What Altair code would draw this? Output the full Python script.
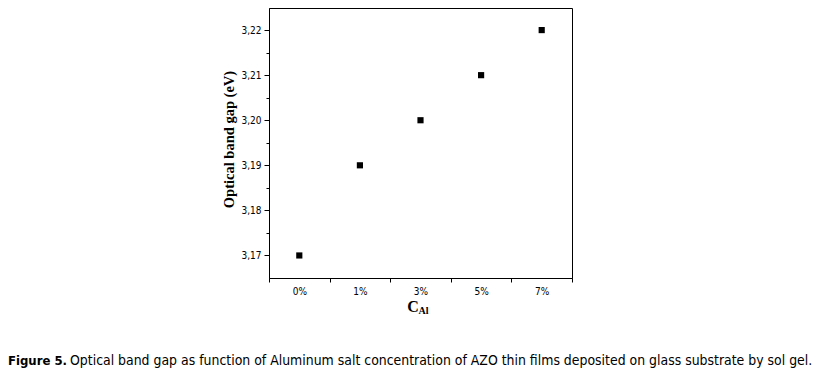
import altair as alt
import pandas as pd

categories = ["0%", "1%", "3%", "5%", "7%"]
band_gap = [3.17, 3.19, 3.20, 3.21, 3.22]
y_ticks = [3.17, 3.175, 3.18, 3.185, 3.19, 3.195, 3.20, 3.205, 3.21, 3.215, 3.22]
y_title = "Optical band gap (eV)"
x_title_main = "C"
x_title_sub = "Al"
caption_bold = "Figure 5."
caption_rest = "Optical band gap as function of Aluminum salt concentration of AZO thin films deposited on glass substrate by sol gel."

df = pd.DataFrame({"conc": categories, "gap": band_gap})

W, H = 303, 270
NARROW = "DejaVu Sans Condensed"

points = alt.Chart(df).mark_point(
    shape="square", filled=True, color="black", size=38, opacity=1
).encode(
    x=alt.X(
        "conc:N",
        sort=categories,
        scale=alt.Scale(type="band", paddingInner=0, paddingOuter=0),
        axis=alt.Axis(
            title=x_title_main,
            titleFont="Liberation Serif",
            titleFontWeight="bold",
            titleFontSize=16,
            titlePadding=2,
            titleX=W / 2 - 8,
            titleAlign="center",
            tickBand="extent",
            tickSize=4,
            labelAngle=0,
            labelFont=NARROW,
            labelFontSize=10,
            labelPadding=4,
        ),
    ),
    y=alt.Y(
        "gap:Q",
        scale=alt.Scale(domain=[3.165, 3.2249], nice=False, zero=False),
        axis=alt.Axis(
            title=y_title,
            titleFont="Liberation Serif",
            titleFontWeight="bold",
            titleFontSize=14.5,
            titlePadding=4,
            titleY=H / 2 - 4,
            values=y_ticks,
            labelExpr="(abs(datum.value*100 - round(datum.value*100)) < 0.01) ? replace(format(datum.value, '.2f'), '.', ',') : ''",
            tickSize={"condition": {"test": "abs(datum.value*100 - round(datum.value*100)) < 0.01", "value": 5}, "value": 3},
            labelFont=NARROW,
            labelFontSize=10,
            labelPadding=3,
        ),
    ),
)

sub = alt.Chart(pd.DataFrame({"t": [x_title_sub]})).mark_text(
    font="Liberation Serif", fontWeight="bold", fontSize=10, align="left", baseline="middle", color="black"
).encode(text="t:N", x=alt.value(W / 2 - 2), y=alt.value(H + 33))

cap1 = alt.Chart(pd.DataFrame({"t": [caption_bold]})).mark_text(
    font=NARROW, fontWeight="bold", fontSize=13, align="left", baseline="middle", color="black"
).encode(text="t:N", x=alt.value(-261), y=alt.value(353))

cap2 = alt.Chart(pd.DataFrame({"t": [caption_rest]})).mark_text(
    font=NARROW, fontSize=13.9, align="left", baseline="middle", color="black"
).encode(text="t:N", x=alt.value(-199), y=alt.value(353))

chart = alt.layer(points, sub, cap1, cap2).properties(
    width=W,
    height=H,
    autosize="none",
    padding={"left": 261, "top": 0, "right": 242, "bottom": 99},
).configure_view(stroke="black", strokeWidth=1).configure_axis(
    grid=False, domainColor="black", tickColor="black", labelColor="black", titleColor="black"
)

chart.save("out.html", embed_options={"renderer": "svg", "actions": False})
